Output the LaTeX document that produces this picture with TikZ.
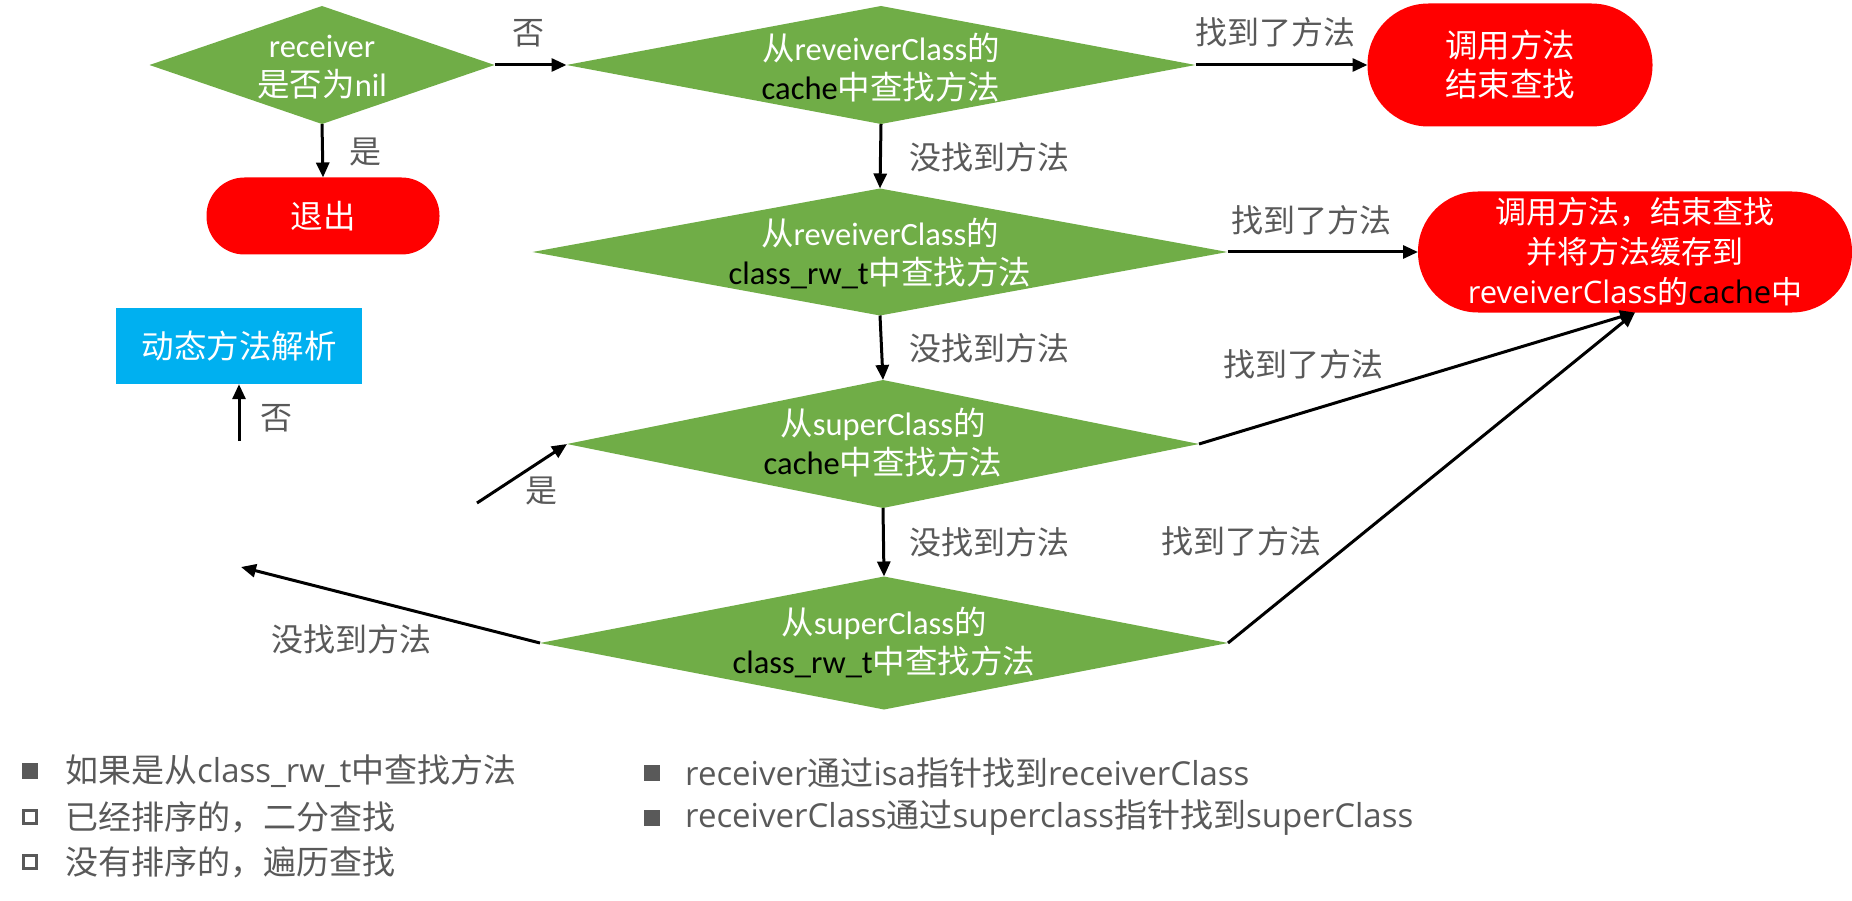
\documentclass[tikz,border=0pt]{standalone}
\usepackage{fontspec}
\setmainfont{Carlito}
\newfontfamily\zh{Noto Sans CJK SC}
\newfontfamily\os{Open Sans}
\usetikzlibrary{shapes.geometric,arrows.meta}
\definecolor{grn}{HTML}{70AD47}
\definecolor{rd}{HTML}{FF0000}
\definecolor{blu}{HTML}{00B0F0}
\definecolor{gry}{HTML}{595959}
\newcommand\Z[1]{{\zh #1}}
\newcommand\K[1]{{\color{black}#1}}
\begin{document}
\begin{tikzpicture}[x=1pt,y=-1pt,
  dia/.style={diamond,fill=grn,inner sep=0pt,outer sep=0pt},
  txt/.style={text=white,align=center,inner sep=0pt,font=\fontsize{32.5}{39}\selectfont},
  stad/.style={rectangle,fill=rd,inner sep=0pt,outer sep=0pt},
  arr/.style={draw=black,line width=3pt,-{Triangle[length=15pt,width=13pt]}},
  lab/.style={text=gry,inner sep=0pt,font=\fontsize{32}{40}\selectfont\zh},
  blt/.style={text=gry,anchor=west,inner sep=0pt,font=\fontsize{33}{40}\selectfont\os},
  sqf/.style={fill=gry,minimum size=16pt,inner sep=0pt},
  sqo/.style={draw=gry,line width=3.5pt,minimum size=13pt,inner sep=0pt}]
\useasboundingbox (0,0) rectangle (1852,901);

% decision diamonds
\node[dia,minimum width=345pt,minimum height=118pt] (A) at (322,65) {};
\node[txt] (At) at (322,67) {receiver\\\Z{是否为}nil};

\node[dia,minimum width=629pt,minimum height=118pt] (B) at (881,65) {};
\node[txt] (Bt) at (881,68) {\Z{从}reveiverClass\Z{的}\\\K{cache}\Z{中查找方法}};

\node[dia,minimum width=695pt,minimum height=127pt] (D) at (880,252) {};
\node[txt] (Dt) at (880,253) {\Z{从}reveiverClass\Z{的}\\\K{class\_rw\_t}\Z{中查找方法}};

\node[dia,minimum width=632pt,minimum height=128pt] (F) at (883,444) {};
\node[txt] (Ft) at (883,443) {\Z{从}superClass\Z{的}\\\K{cache}\Z{中查找方法}};

\node[dia,minimum width=688pt,minimum height=133pt] (G) at (884,643) {};
\node[txt] (Gt) at (884,642) {\Z{从}superClass\Z{的}\\\K{class\_rw\_t}\Z{中查找方法}};

% terminals
\node[stad,txt,rounded corners=61pt,minimum width=285pt,minimum height=123pt] (C) at (1510,65) {\Z{调用方法}\\\Z{结束查找}};
\node[stad,txt,rounded corners=38pt,minimum width=233pt,minimum height=77pt] (X) at (323,216) {\Z{退出}};
\node[stad,txt,rounded corners=60pt,minimum width=434pt,minimum height=121pt,font=\fontsize{31}{40}\selectfont\os] (E) at (1635,252)
  {\Z{调用方法，结束查找}\\\Z{并将方法缓存到}\\reveiverClass\Z{的}\K{cache}\Z{中}};
\node[fill=blu,txt,minimum width=246pt,minimum height=76pt] (H) at (239,346) {\Z{动态方法解析}};

% free ends
\coordinate (g1) at (241,567);
\coordinate (s1) at (477,503);
\coordinate (h1) at (239,441);

% connectors
\draw[arr] (A.east) -- (B.west);
\draw[arr] (A.south) -- (X.north);
\draw[arr] (B.east) -- (C.west);
\draw[arr] (B.south) -- (D.north);
\draw[arr] (D.east) -- (E.west);
\draw[arr] (D.south) -- (F.north);
\draw[arr] (F.east) -- (E.south);
\draw[arr] (F.south) -- (G.north);
\draw[arr] (G.east) -- (E.south);
\draw[arr] (G.west) -- (g1);
\draw[arr] (s1) -- (F.west);
\draw[arr] (h1) -- (H.south);

% connector labels
\node[lab] (l1) at (528,33) {否};
\node[lab] (l2) at (365,152) {是};
\node[lab] (l3) at (1275,32) {找到了方法};
\node[lab] (l4) at (989,157) {没找到方法};
\node[lab] (l5) at (1311,220) {找到了方法};
\node[lab] (l6) at (989,348) {没找到方法};
\node[lab] (l7) at (1303,364) {找到了方法};
\node[lab] (l8) at (989,542) {没找到方法};
\node[lab] (l9) at (1241,541) {找到了方法};
\node[lab] (l10) at (351,639) {没找到方法};
\node[lab] (l11) at (541,491) {是};
\node[lab] (l12) at (276,418) {否};

% notes
\node[sqf] (b1) at (30,771) {};
\node[sqo] (b2) at (30,817) {};
\node[sqo] (b3) at (30,862) {};
\node[blt] (t1) at (65,771) {\Z{如果是从}class\_rw\_t\Z{中查找方法}};
\node[blt] (t2) at (65,817) {\Z{已经排序的，二分查找}};
\node[blt] (t3) at (65,862) {\Z{没有排序的，遍历查找}};
\node[sqf] (b4) at (652,773) {};
\node[sqf] (b5) at (652,818) {};
\node[blt] (t4) at (685,773) {receiver\Z{通过}isa\Z{指针找到}receiverClass};
\node[blt] (t5) at (685,818) {receiverClass\Z{通过}superclass\Z{指针找到}superClass};
\end{tikzpicture}
\end{document}
